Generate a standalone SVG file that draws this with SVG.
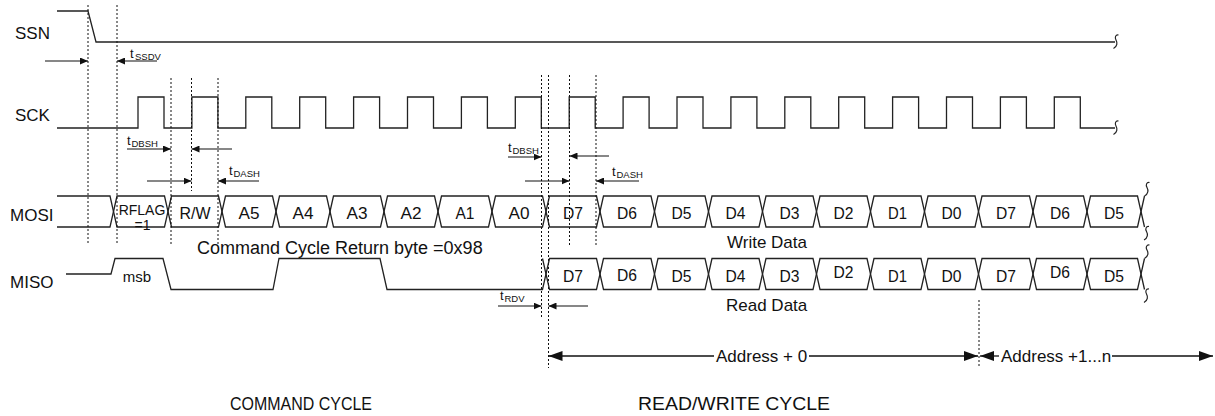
<svg xmlns="http://www.w3.org/2000/svg" xmlns:xlink="http://www.w3.org/1999/xlink" width="1215" height="416" viewBox="0 0 1215 416">
<style>
text{font-family:"Liberation Sans",Arial,sans-serif;fill:#111}
.lbl{font-size:17px}
.cap{font-size:19px}
.cell{font-size:17px;text-anchor:middle}
.sm{font-size:14px;text-anchor:middle}
.t{font-size:13px}
.sub{font-size:9.5px}
.w{fill:none;stroke:#222;stroke-width:1.3}
.dot{fill:none;stroke:#111;stroke-width:1;stroke-dasharray:2 2}
.arr{fill:none;stroke:#111;stroke-width:1.2;marker-end:url(#ah)}
.big{fill:none;stroke:#111;stroke-width:1.3}
</style>
<defs>
<marker id="ah" markerWidth="9" markerHeight="7" refX="8" refY="3.5" orient="auto" markerUnits="userSpaceOnUse"><path d="M0,0 L8,3.5 L0,7 Z" fill="#111"/></marker>
<marker id="bh" markerWidth="15" markerHeight="10" refX="14" refY="5" orient="auto-start-reverse" markerUnits="userSpaceOnUse"><path d="M0,0 L14,5 L0,10 Z" fill="#111"/></marker>
<path id="sq" d="M2.5,-7 C-0.5,-7.5 -1.5,-4.5 0,-2 C1.5,0.5 1.5,4.5 -2.5,6.5" fill="none" stroke="#222" stroke-width="1.2"/>
</defs>

<g id="labels">
<text class="lbl" x="15" y="39">SSN</text>
<text class="lbl" x="15" y="121">SCK</text>
<text class="lbl" x="10" y="221">MOSI</text>
<text class="lbl" x="10" y="288">MISO</text>
</g>

<g id="ssn">
<path class="w" d="M57,11 H88 L96,42 H1115"/>
<use xlink:href="#sq" x="1116" y="42"/>
</g>

<g id="sck">
<path class="w" d="M57,128 H138 V97 H164 V128 H191.9 V97 H217.9 V128 H245.8 V97 H271.8 V128 H299.7 V97 H325.7 V128 H353.6 V97 H379.6 V128 H407.5 V97 H433.5 V128 H461.4 V97 H487.4 V128 H515.3 V97 H541.3 V128 H569.2 V97 H595.2 V128 H623.1 V97 H649.1 V128 H677 V97 H703 V128 H730.9 V97 H756.9 V128 H784.8 V97 H810.8 V128 H838.7 V97 H864.7 V128 H892.6 V97 H918.6 V128 H946.5 V97 H972.5 V128 H1000.4 V97 H1026.4 V128 H1054.3 V97 H1080.3 V128 H1115"/>
<use xlink:href="#sq" x="1116" y="128"/>
</g>

<g id="mosi">
<path class="w" d="M57,196 H110 L113.5,211.5 L110,227 H57"/>
<path class="w" d="M113.5,211.5 L117,196 H164.5 L168,211.5 L164.5,227 H117 Z"/>
<path class="w" d="M168,211.5 L171.5,196 H218.5 L222,211.5 L218.5,227 H171.5 Z"/>
<path class="w" d="M222,211.5 L225.5,196 H272.5 L276,211.5 L272.5,227 H225.5 Z"/>
<path class="w" d="M276,211.5 L279.5,196 H326.5 L330,211.5 L326.5,227 H279.5 Z"/>
<path class="w" d="M330,211.5 L333.5,196 H380.5 L384,211.5 L380.5,227 H333.5 Z"/>
<path class="w" d="M384,211.5 L387.5,196 H434.5 L438,211.5 L434.5,227 H387.5 Z"/>
<path class="w" d="M438,211.5 L441.5,196 H488.5 L492,211.5 L488.5,227 H441.5 Z"/>
<path class="w" d="M492,211.5 L495.5,196 H542.5 L546,211.5 L542.5,227 H495.5 Z"/>
<path class="w" d="M546,211.5 L549.5,196 H596.5 L600,211.5 L596.5,227 H549.5 Z"/>
<path class="w" d="M600,211.5 L603.5,196 H651 L654.5,211.5 L651,227 H603.5 Z"/>
<path class="w" d="M654.5,211.5 L658,196 H705 L708.5,211.5 L705,227 H658 Z"/>
<path class="w" d="M708.5,211.5 L712,196 H759 L762.5,211.5 L759,227 H712 Z"/>
<path class="w" d="M762.5,211.5 L766,196 H813 L816.5,211.5 L813,227 H766 Z"/>
<path class="w" d="M816.5,211.5 L820,196 H867 L870.5,211.5 L867,227 H820 Z"/>
<path class="w" d="M870.5,211.5 L874,196 H921 L924.5,211.5 L921,227 H874 Z"/>
<path class="w" d="M924.5,211.5 L928,196 H975 L978.5,211.5 L975,227 H928 Z"/>
<path class="w" d="M978.5,211.5 L982,196 H1029.5 L1033,211.5 L1029.5,227 H982 Z"/>
<path class="w" d="M1033,211.5 L1036.5,196 H1083.5 L1087,211.5 L1083.5,227 H1036.5 Z"/>
<path class="w" d="M1087,211.5 L1090.5,196 H1137.5 L1141,211.5 L1137.5,227 H1090.5 Z"/>
<path class="w" d="M1141,211.5 L1144.5,196 M1141,211.5 L1144.5,227"/>
<use xlink:href="#sq" x="1147" y="189.5"/>
<use xlink:href="#sq" x="1146.5" y="233.5"/>
<text class="sm" x="142" y="215">RFLAG</text>
<text class="sm" x="142.5" y="230">=1</text>
<text class="cell" x="195" y="218.5" textLength="31" lengthAdjust="spacingAndGlyphs">R/W</text>
<text class="cell" x="249" y="218.5" textLength="21" lengthAdjust="spacingAndGlyphs">A5</text>
<text class="cell" x="303" y="218.5" textLength="21" lengthAdjust="spacingAndGlyphs">A4</text>
<text class="cell" x="357" y="218.5" textLength="21" lengthAdjust="spacingAndGlyphs">A3</text>
<text class="cell" x="411" y="218.5" textLength="21" lengthAdjust="spacingAndGlyphs">A2</text>
<text class="cell" x="465" y="218.5" textLength="19" lengthAdjust="spacingAndGlyphs">A1</text>
<text class="cell" x="519" y="218.5" textLength="21" lengthAdjust="spacingAndGlyphs">A0</text>
<text class="cell" x="573" y="218.5" textLength="20" lengthAdjust="spacingAndGlyphs">D7</text>
<text class="cell" x="627" y="218.5" textLength="20" lengthAdjust="spacingAndGlyphs">D6</text>
<text class="cell" x="681.5" y="218.5" textLength="20" lengthAdjust="spacingAndGlyphs">D5</text>
<text class="cell" x="735.5" y="218.5" textLength="20" lengthAdjust="spacingAndGlyphs">D4</text>
<text class="cell" x="789.5" y="218.5" textLength="20" lengthAdjust="spacingAndGlyphs">D3</text>
<text class="cell" x="843.5" y="218.5" textLength="20" lengthAdjust="spacingAndGlyphs">D2</text>
<text class="cell" x="897.5" y="218.5" textLength="19" lengthAdjust="spacingAndGlyphs">D1</text>
<text class="cell" x="951.5" y="218.5" textLength="20" lengthAdjust="spacingAndGlyphs">D0</text>
<text class="cell" x="1006" y="218.5" textLength="20" lengthAdjust="spacingAndGlyphs">D7</text>
<text class="cell" x="1060" y="218.5" textLength="20" lengthAdjust="spacingAndGlyphs">D6</text>
<text class="cell" x="1114" y="218.5" textLength="20" lengthAdjust="spacingAndGlyphs">D5</text>
<text class="lbl" x="727" y="248">Write Data</text>
</g>

<g id="miso">
<path class="w" d="M66,274 H111 L115,258.5 H163 L171,289.5 H273 L279,258.5 H380 L387,289.5 H542.5 L546,274 L542.5,258.5"/>
<path class="w" d="M546,274 L549.5,258.5 H596.5 L600,274 L596.5,289.5 H549.5 Z"/>
<path class="w" d="M600,274 L603.5,258.5 H651 L654.5,274 L651,289.5 H603.5 Z"/>
<path class="w" d="M654.5,274 L658,258.5 H705 L708.5,274 L705,289.5 H658 Z"/>
<path class="w" d="M708.5,274 L712,258.5 H759 L762.5,274 L759,289.5 H712 Z"/>
<path class="w" d="M762.5,274 L766,258.5 H813 L816.5,274 L813,289.5 H766 Z"/>
<path class="w" d="M816.5,274 L820,258.5 H867 L870.5,274 L867,289.5 H820 Z"/>
<path class="w" d="M870.5,274 L874,258.5 H921 L924.5,274 L921,289.5 H874 Z"/>
<path class="w" d="M924.5,274 L928,258.5 H975 L978.5,274 L975,289.5 H928 Z"/>
<path class="w" d="M978.5,274 L982,258.5 H1029.5 L1033,274 L1029.5,289.5 H982 Z"/>
<path class="w" d="M1033,274 L1036.5,258.5 H1083.5 L1087,274 L1083.5,289.5 H1036.5 Z"/>
<path class="w" d="M1087,274 L1090.5,258.5 H1137.5 L1141,274 L1137.5,289.5 H1090.5 Z"/>
<path class="w" d="M1141,274 L1144.5,258.5 M1141,274 L1144.5,289.5"/>
<use xlink:href="#sq" x="1147" y="252"/>
<use xlink:href="#sq" x="1146.5" y="296"/>
<text class="sm" x="137" y="282" style="font-size:15px">msb</text>
<text class="lbl" x="197" y="254" style="font-size:18px">Command Cycle Return byte =0x98</text>
<text class="cell" x="573" y="281.5" textLength="20" lengthAdjust="spacingAndGlyphs">D7</text>
<text class="cell" x="627" y="280.5" textLength="20" lengthAdjust="spacingAndGlyphs">D6</text>
<text class="cell" x="681.5" y="281.5" textLength="20" lengthAdjust="spacingAndGlyphs">D5</text>
<text class="cell" x="735.5" y="281.5" textLength="20" lengthAdjust="spacingAndGlyphs">D4</text>
<text class="cell" x="789.5" y="281.5" textLength="20" lengthAdjust="spacingAndGlyphs">D3</text>
<text class="cell" x="843.5" y="278" textLength="20" lengthAdjust="spacingAndGlyphs">D2</text>
<text class="cell" x="897.5" y="281.5" textLength="19" lengthAdjust="spacingAndGlyphs">D1</text>
<text class="cell" x="951.5" y="281.5" textLength="20" lengthAdjust="spacingAndGlyphs">D0</text>
<text class="cell" x="1006" y="281.5" textLength="20" lengthAdjust="spacingAndGlyphs">D7</text>
<text class="cell" x="1060" y="278" textLength="20" lengthAdjust="spacingAndGlyphs">D6</text>
<text class="cell" x="1114" y="281.5" textLength="20" lengthAdjust="spacingAndGlyphs">D5</text>
<text class="lbl" x="726" y="311">Read Data</text>
</g>

<g id="guides">
<path class="dot" d="M88,5 V244 M117,5 V244 M171,78 V244 M191.5,78 V191 M218,78 V244 M541.5,75 V317 M548.5,75 V368 M569.5,75 V247 M596,75 V247 M979,300 V368"/>
</g>

<g id="timing">
<path class="arr" d="M45,61 H88"/>
<path class="arr" d="M157,61 H117"/>
<text class="t" x="130" y="58">t</text><text class="sub" x="135" y="60">SSDV</text>
<path class="arr" d="M127,149 H171"/>
<path class="arr" d="M232,149 H191.5"/>
<text class="t" x="127" y="145">t</text><text class="sub" x="131.5" y="147">DBSH</text>
<path class="arr" d="M147,181 H191.5"/>
<path class="arr" d="M259,181 H218"/>
<text class="t" x="229" y="175">t</text><text class="sub" x="233.5" y="177">DASH</text>
<path class="arr" d="M508,157 H541.5"/>
<path class="arr" d="M609,156 H569.5"/>
<text class="t" x="508" y="152">t</text><text class="sub" x="512.5" y="154">DBSH</text>
<path class="arr" d="M525,181 H569.5"/>
<path class="arr" d="M639,181 H596"/>
<text class="t" x="612" y="176">t</text><text class="sub" x="616.5" y="178">DASH</text>
<path class="arr" d="M498,306 H541.5"/>
<path class="arr" d="M588,306 H548.5"/>
<text class="t" x="500" y="300">t</text><text class="sub" x="504.5" y="302">RDV</text>
</g>

<g id="cycles">
<path class="big" d="M714,356 H548.5" marker-end="url(#bh)"/>
<path class="big" d="M809,356 H978" marker-end="url(#bh)"/>
<text class="lbl" x="716" y="362">Address + 0</text>
<path class="big" d="M999,356 H980" marker-end="url(#bh)"/>
<path class="big" d="M1112,356 H1213" marker-end="url(#bh)"/>
<text class="lbl" x="1001" y="362">Address +1...n</text>
<text class="cap" x="230" y="410" textLength="142" lengthAdjust="spacingAndGlyphs">COMMAND CYCLE</text>
<text class="cap" x="638" y="410" textLength="192" lengthAdjust="spacingAndGlyphs">READ/WRITE CYCLE</text>
</g>
</svg>
